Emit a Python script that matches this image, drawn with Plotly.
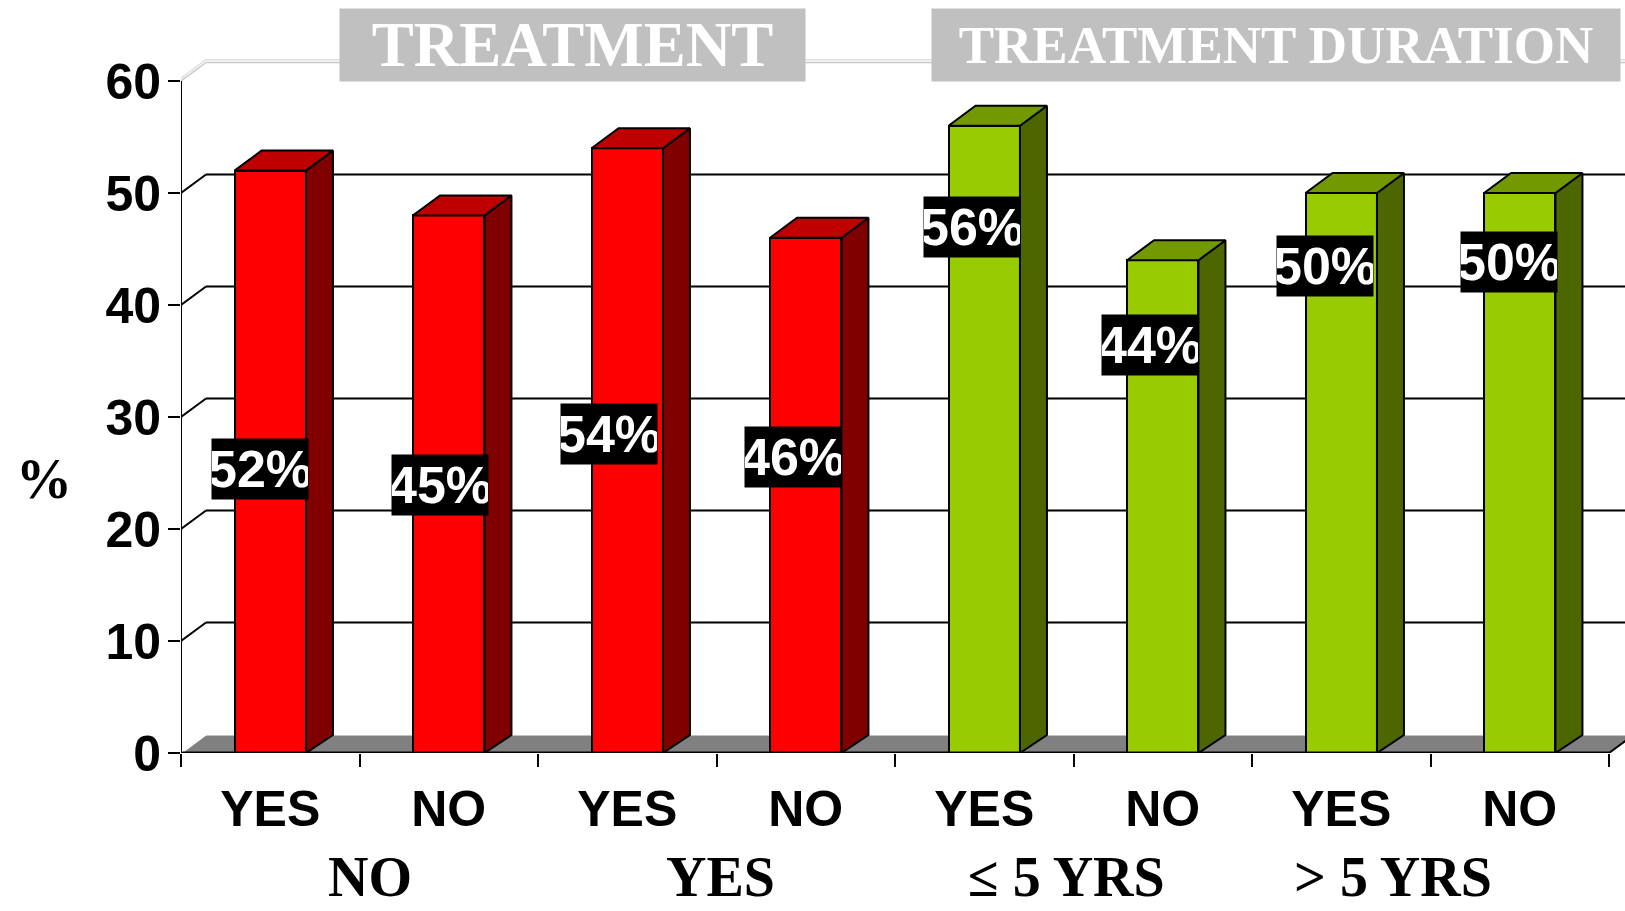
import plotly.graph_objects as go

# ---- data ----
categories = ["YES", "NO", "YES", "NO", "YES", "NO", "YES", "NO"]
values = [52, 48, 54, 46, 56, 44, 50, 50]
value_labels = ["52%", "45%", "54%", "46%", "56%", "44%", "50%", "50%"]
groups = ["NO", "YES", "\u2264 5 YRS", "> 5 YRS"]
headers = ["TREATMENT", "TREATMENT DURATION"]
y_ticks = [0, 10, 20, 30, 40, 50, 60]

# ---- layout / style (not data) ----
W, H = 1625, 911
ML, MR, MT, MB = 181, 0, 40, 158
SLOT = 178.5           # px per category
PPU = 11.2             # px per y unit
plot_w = W - ML - MR
plot_h = H - MT - MB
x0 = -0.5
x1 = x0 + plot_w / SLOT
y1 = plot_h / PPU

bar_w = 0.4
bdx, bdy = 27 / SLOT, 20 / PPU      # bar depth
wdx, wdy = 25 / SLOT, 18.5 / PPU    # wall depth

front_cols = ["#FF0000"] * 4 + ["#99CC00"] * 4
top_cols = ["#BF0000"] * 4 + ["#739900"] * 4
side_cols = ["#800000"] * 4 + ["#4D6600"] * 4

label_dx = [-0.06, -0.05, -0.10, -0.07, -0.07, -0.07, -0.09, -0.06]
label_y = [25.4, 23.9, 28.5, 26.4, 47.0, 36.4, 43.5, 43.8]
group_x = [0.56, 2.52, 4.46, 6.29]

SANS = "Liberation Sans, Arial, sans-serif"
NARROW = "Liberation Sans Narrow, Arial Narrow, Liberation Sans, Arial, sans-serif"
SERIF = "Liberation Serif, Times New Roman, serif"

fig = go.Figure()

xs = list(range(len(categories)))

# front faces
fig.add_trace(go.Bar(
    x=xs, y=values, width=bar_w,
    marker=dict(color=front_cols, line=dict(color="black", width=2)),
    showlegend=False, hoverinfo="skip",
))

# side and top faces
for i, v in enumerate(values):
    xl, xr = i - bar_w / 2, i + bar_w / 2
    fig.add_trace(go.Scatter(
        x=[xr, xr + bdx, xr + bdx, xr, xr],
        y=[0, bdy * 0.9, v + bdy, v, 0],
        mode="lines", fill="toself", fillcolor=side_cols[i],
        line=dict(color="black", width=2), showlegend=False, hoverinfo="skip",
    ))
    fig.add_trace(go.Scatter(
        x=[xl, xr, xr + bdx, xl + bdx, xl],
        y=[v, v, v + bdy, v + bdy, v],
        mode="lines", fill="toself", fillcolor=top_cols[i],
        line=dict(color="black", width=2), showlegend=False, hoverinfo="skip",
    ))

shapes = []
x_end = len(categories) - 0.5
# floor
shapes.append(dict(
    type="path", xref="x", yref="y", layer="below",
    path=f"M {x0},0 L {x_end},0 L {x_end + wdx},{wdy} L {x0 + wdx},{wdy} Z",
    fillcolor="#808080", line=dict(color="#808080", width=1),
))
shapes.append(dict(type="line", xref="x", yref="y", layer="below",
                   x0=x0 + wdx, y0=wdy, x1=x1 + 1, y1=wdy,
                   line=dict(color="white", width=2)))
shapes.append(dict(type="line", xref="x", yref="y", layer="below",
                   x0=x0, y0=0, x1=x0 + wdx, y1=wdy,
                   line=dict(color="white", width=2)))
# back wall gridlines
for t in y_ticks[1:-1]:
    shapes.append(dict(type="line", xref="x", yref="y", layer="below",
                       x0=x0, y0=t, x1=x0 + wdx, y1=t + wdy,
                       line=dict(color="black", width=2)))
    shapes.append(dict(type="line", xref="x", yref="y", layer="below",
                       x0=x0 + wdx, y0=t + wdy, x1=x1 + 1, y1=t + wdy,
                       line=dict(color="black", width=2)))
# top edge of wall (light)
top = y_ticks[-1]
for off, col in [(0, "#C8C8C8"), (0.25, "#E0E0E0")]:
    shapes.append(dict(type="line", xref="x", yref="y", layer="below",
                       x0=x0, y0=top + off, x1=x0 + wdx, y1=top + wdy + off,
                       line=dict(color=col, width=1.5)))
    shapes.append(dict(type="line", xref="x", yref="y", layer="below",
                       x0=x0 + wdx, y0=top + wdy + off, x1=x1 + 1, y1=top + wdy + off,
                       line=dict(color=col, width=1.5)))
# front axis lines
shapes.append(dict(type="line", xref="x", yref="y", x0=x0, y0=0, x1=x0, y1=top,
                   line=dict(color="black", width=2)))
shapes.append(dict(type="line", xref="x", yref="y", x0=x0, y0=0, x1=x_end, y1=0,
                   line=dict(color="black", width=3)))
shapes.append(dict(type="line", xref="x", yref="y", x0=x_end, y0=0,
                   x1=x_end + wdx, y1=wdy, line=dict(color="black", width=2)))

annotations = []
# value labels
for i, lab in enumerate(value_labels):
    annotations.append(dict(
        x=i + label_dx[i], y=label_y[i], xref="x", yref="y", text=lab,
        showarrow=False, bgcolor="black", width=96, height=60, borderpad=0,
        font=dict(family=NARROW, size=52, color="white", weight="bold"),
        xanchor="center", yanchor="middle",
    ))
# group labels
for gx, g in zip(group_x, groups):
    annotations.append(dict(
        x=gx, y=0, xref="x", yref="y", yshift=-124, text=g, showarrow=False,
        font=dict(family=SERIF, size=56, color="black", weight="bold"),
        xanchor="center", yanchor="middle",
    ))


def px_x(p):
    return (p - ML) / plot_w


def px_y(p):
    return (H - MB - p) / plot_h


# header boxes
hdr_px = [(339, 465, 63), (931, 688, 53)]
for (left, wid, fs), txt in zip(hdr_px, headers):
    annotations.append(dict(
        x=px_x(left), y=px_y(8), xref="paper", yref="paper", text=txt,
        showarrow=False, bgcolor="#C0C0C0", width=wid, height=72, borderpad=0,
        font=dict(family=SERIF, size=fs, color="white", weight="bold"),
        xanchor="left", yanchor="top", valign="middle",
    ))
# y axis title
annotations.append(dict(
    x=px_x(44), y=px_y(479), xref="paper", yref="paper", text="%",
    showarrow=False, font=dict(family=SERIF, size=56, color="black", weight="bold"),
    xanchor="center", yanchor="middle",
))

fig.update_layout(
    width=W, height=H,
    margin=dict(l=ML, r=MR, t=MT, b=MB),
    paper_bgcolor="white", plot_bgcolor="white",
    shapes=shapes, annotations=annotations,
    bargap=0, showlegend=False,
    xaxis=dict(
        range=[x0, x1], tickmode="array", tickvals=xs, ticktext=categories,
        ticks="", showgrid=False, zeroline=False, showline=False,
        tickfont=dict(family=SANS, size=50, color="black", weight="bold"),
        ticklabelstandoff=22,
        minor=dict(ticks="outside", ticklen=13, tickwidth=2, tickcolor="black",
                   tick0=-0.5, dtick=1, showgrid=False),
        fixedrange=True,
    ),
    yaxis=dict(
        range=[0, y1], tickmode="array", tickvals=y_ticks,
        ticks="outside", ticklen=12, tickwidth=2, tickcolor="black",
        showgrid=False, zeroline=False, showline=False,
        tickfont=dict(family=SANS, size=50, color="black", weight="bold"),
        ticklabelstandoff=-3,
        fixedrange=True,
    ),
)

fig.write_html(
    "out.html",
    config={"displayModeBar": False},
    post_script="document.body.style.margin='0';document.documentElement.style.overflow='hidden';",
)
